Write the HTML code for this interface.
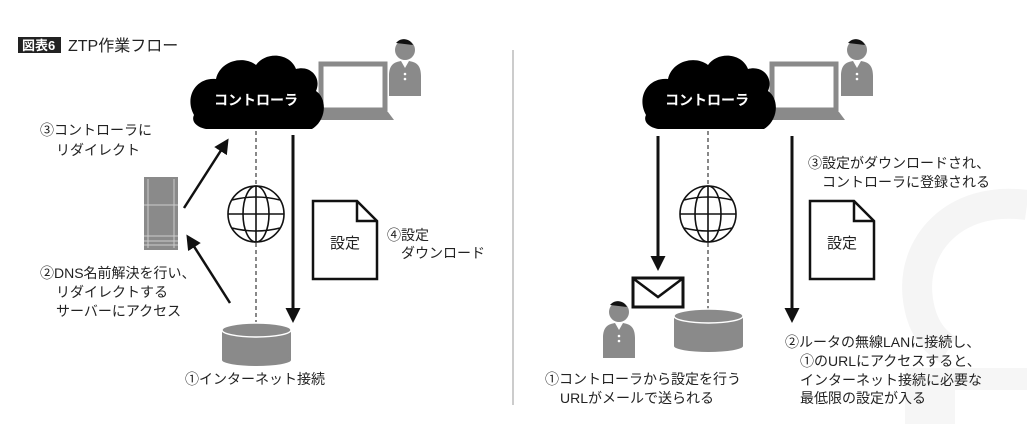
<!DOCTYPE html>
<html><head><meta charset="utf-8"><style>
html,body{margin:0;padding:0;background:#fff;}
svg{display:block}
text{font-family:"Liberation Sans","Noto Sans CJK JP",sans-serif;fill:#222;}
</style></head><body>
<svg width="1027" height="424" viewBox="0 0 1027 424" xmlns="http://www.w3.org/2000/svg">
<defs>
<marker id="ah" viewBox="0 0 10 10" refX="8" refY="5" markerWidth="5" markerHeight="5" orient="auto"><path d="M0,0 L10,5 L0,10 z" fill="#111"/></marker>
<marker id="ah2" viewBox="0 0 10 10" refX="8" refY="5" markerWidth="6" markerHeight="6" orient="auto"><path d="M0,0 L10,5 L0,10 z" fill="#111"/></marker>
<g id="cloud"><path d="M6,60 C-4,42 8,22 28,24 C32,6 55,0 68,10 C78,-4 102,-2 108,14 C122,10 134,22 128,36 C140,44 138,66 124,74 L18,74 C8,72 3,66 6,60 Z" fill="#000"/></g>
<g id="laptop"><rect x="9" y="2" width="64" height="46" fill="#fff" stroke="#8a8a8a" stroke-width="5"/><path d="M0,58 L82,58 L76,50 L6,50 Z" fill="#8a8a8a"/></g>
<g id="person"><circle cx="16" cy="10" r="10" fill="#8a8a8a"/><path d="M7,3 A10,10 0 0 1 24,5 Z" fill="#111"/><path d="M0,36 C0,24 6,22 12,21 L16,28 L20,21 C26,22 32,24 32,36 L32,56 L0,56 Z" fill="#8a8a8a"/><circle cx="16" cy="34" r="1.3" fill="#fff"/><circle cx="16" cy="39" r="1.3" fill="#fff"/></g>
<g id="globe" fill="none" stroke="#111" stroke-width="1.6"><circle r="28"/><ellipse rx="13" ry="28"/><line x1="0" y1="-28" x2="0" y2="28"/><line x1="-28" y1="0" x2="28" y2="0"/><path d="M-24,-14 Q0,-20 24,-14 M-24,14 Q0,20 24,14"/></g>
<g id="doc"><path d="M0,0 L44,0 L64,20 L64,78 L0,78 Z" fill="#fff" stroke="#111" stroke-width="2.5"/><path d="M44,0 L44,20 L64,20" fill="none" stroke="#111" stroke-width="2.5"/><text x="32" y="47" font-size="15" text-anchor="middle">設定</text></g>
<g id="cyl"><rect x="0" y="8" width="69" height="30" fill="#8a8a8a"/><ellipse cx="34.5" cy="38" rx="34.5" ry="6" fill="#8a8a8a"/><ellipse cx="34.5" cy="8" rx="34.5" ry="7" fill="#8a8a8a" stroke="#fff" stroke-width="1.5"/></g>
</defs>
<!-- watermark -->
<path d="M1027,205 C955,195 910,245 918,300 C922,328 935,342 948,350" fill="none" stroke="#f5f5f5" stroke-width="30"/>
<rect x="905" y="368" width="122" height="56" fill="#f6f6f6"/>
<rect x="955" y="390" width="72" height="34" fill="#fff"/>

<!-- title -->
<rect x="18" y="37" width="43" height="16" fill="#222"/>
<text x="22" y="50" font-size="13" font-weight="bold" style="fill:#fff">図表6</text>
<text x="68" y="51" font-size="16">ZTP作業フロー</text>

<!-- divider -->
<line x1="513" y1="50" x2="513" y2="405" stroke="#999" stroke-width="1"/>

<!-- LEFT -->
<use href="#laptop" x="312" y="62"/>
<use href="#person" x="389" y="40"/>
<use href="#cloud" x="188" y="55"/>
<text x="256" y="105" font-size="14" font-weight="bold" text-anchor="middle" style="fill:#fff">コントローラ</text>
<line x1="256" y1="131" x2="256" y2="322" stroke="#111" stroke-dasharray="4,3" stroke-width="1"/>
<rect x="240" y="194" width="32" height="40" fill="#fff"/>
<use href="#globe" x="256" y="214"/>
<line x1="293" y1="135" x2="293" y2="320" stroke="#111" stroke-width="3" marker-end="url(#ah)"/>
<rect x="144" y="177" width="34" height="73" fill="#8a8a8a"/>
<g stroke="#ccc" stroke-width="1"><line x1="148" y1="179" x2="148" y2="248"/><line x1="174" y1="179" x2="174" y2="248"/><line x1="144" y1="205" x2="178" y2="205"/><line x1="144" y1="236" x2="178" y2="236"/><line x1="144" y1="241" x2="178" y2="241"/><line x1="144" y1="245" x2="178" y2="245"/></g>
<line x1="184" y1="208" x2="227" y2="141" stroke="#111" stroke-width="2.5" marker-end="url(#ah2)"/>
<line x1="230" y1="303" x2="188" y2="237" stroke="#111" stroke-width="2.5" marker-end="url(#ah2)"/>
<use href="#cyl" x="222" y="322"/>
<use href="#doc" x="313" y="201"/>
<g font-size="14">
<text x="40" y="135">③コントローラに</text>
<text x="56" y="155">リダイレクト</text>
<text x="40" y="278">②DNS名前解決を行い、</text>
<text x="56" y="297">リダイレクトする</text>
<text x="56" y="316">サーバーにアクセス</text>
<text x="387" y="240">④設定</text>
<text x="401" y="258">ダウンロード</text>
<text x="185" y="384">①インターネット接続</text>
</g>

<!-- RIGHT -->
<use href="#laptop" x="763" y="62"/>
<use href="#person" x="841" y="40"/>
<use href="#cloud" x="640" y="55"/>
<text x="707" y="105" font-size="14" font-weight="bold" text-anchor="middle" style="fill:#fff">コントローラ</text>
<line x1="708" y1="131" x2="708" y2="310" stroke="#111" stroke-dasharray="4,3" stroke-width="1"/>
<rect x="692" y="194" width="32" height="40" fill="#fff"/>
<use href="#globe" x="708" y="214"/>
<line x1="658" y1="136" x2="658" y2="268" stroke="#111" stroke-width="3" marker-end="url(#ah)"/>
<line x1="792" y1="136" x2="792" y2="320" stroke="#111" stroke-width="3" marker-end="url(#ah)"/>
<rect x="633" y="278" width="50" height="29" fill="#fff" stroke="#111" stroke-width="3"/>
<path d="M634,279 L658,297 L682,279" fill="none" stroke="#111" stroke-width="2.5"/>
<use href="#person" x="603" y="302"/>
<use href="#cyl" x="674" y="308"/>
<use href="#doc" x="810" y="201"/>
<g font-size="14">
<text x="808" y="168">③設定がダウンロードされ、</text>
<text x="822" y="187">コントローラに登録される</text>
<text x="545" y="384">①コントローラから設定を行う</text>
<text x="560" y="403">URLがメールで送られる</text>
<text x="785" y="347">②ルータの無線LANに接続し、</text>
<text x="800" y="366">①のURLにアクセスすると、</text>
<text x="800" y="385">インターネット接続に必要な</text>
<text x="800" y="403">最低限の設定が入る</text>
</g>
</svg>
</body></html>
